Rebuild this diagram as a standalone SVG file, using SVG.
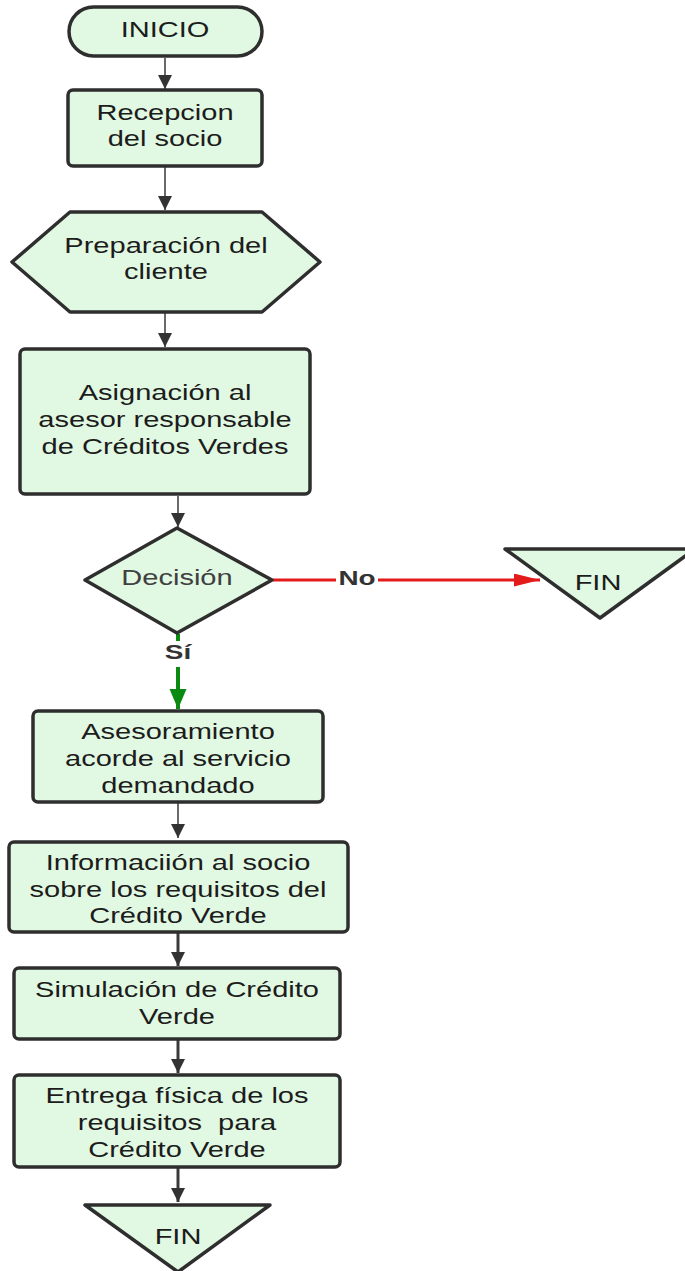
<svg xmlns="http://www.w3.org/2000/svg" width="685" height="1271" viewBox="0 0 685 1271">
<defs>
<style>
.shape{fill:#e1f8e2;stroke:#2e2e2e;stroke-width:3.5;stroke-linejoin:round}
.t{font-family:"Liberation Sans",Arial,sans-serif;font-size:22px;fill:#1c1c1c;text-anchor:middle;white-space:pre}
.lbl{font-family:"Liberation Sans",Arial,sans-serif;font-size:21px;font-weight:bold;fill:#333;text-anchor:middle}
.thin{stroke:#444;stroke-width:1.6;fill:none}
.thick{stroke:#3a3a3a;stroke-width:3;fill:none}
</style>
<marker id="ah" markerUnits="userSpaceOnUse" markerWidth="14" markerHeight="16" refX="14" refY="7" orient="auto"><path d="M0,0 L14,7 L0,14 Z" fill="#333"/></marker>
<marker id="ahR" markerUnits="userSpaceOnUse" markerWidth="26" markerHeight="14" refX="26" refY="6.5" orient="auto"><path d="M0,0 L26,6.5 L0,13 Z" fill="#e31b1b"/></marker>
<marker id="ahG" markerUnits="userSpaceOnUse" markerWidth="20" markerHeight="18" refX="20" refY="8.5" orient="auto"><path d="M0,0 L20,8.5 L0,17 Z" fill="#0b8a12"/></marker>
</defs>
<rect width="685" height="1271" fill="#ffffff"/>
<g id="connectors">
<line class="thin" x1="165" y1="58" x2="165" y2="89" marker-end="url(#ah)"/>
<line class="thin" x1="165" y1="167" x2="165" y2="210" marker-end="url(#ah)"/>
<line class="thin" x1="165" y1="313" x2="165" y2="347" marker-end="url(#ah)"/>
<line class="thin" x1="178" y1="496" x2="178" y2="527" marker-end="url(#ah)"/>
<line x1="273" y1="580" x2="540" y2="580" stroke="#e31b1b" stroke-width="3" marker-end="url(#ahR)"/>
<line x1="178" y1="634" x2="178" y2="709" stroke="#0b8a12" stroke-width="4" marker-end="url(#ahG)"/>
<line class="thin" x1="178" y1="803" x2="178" y2="838" marker-end="url(#ah)"/>
<line class="thick" x1="178" y1="933" x2="178" y2="966" marker-end="url(#ah)"/>
<line class="thick" x1="178" y1="1040" x2="178" y2="1073" marker-end="url(#ah)"/>
<line class="thick" x1="178" y1="1168" x2="178" y2="1202" marker-end="url(#ah)"/>
<rect x="336" y="568" width="42" height="24" fill="#ffffff"/>
<text class="lbl" transform="translate(357,585) scale(1.33,1)">No</text>
<rect x="163" y="641" width="30" height="26" fill="#ffffff"/>
<text class="lbl" transform="translate(178,659) scale(1.33,1)">Sí</text>
</g>
<g id="inicio">
<rect class="shape" x="69" y="7" width="193" height="49" rx="24.5"/>
<text class="t" transform="translate(165,37) scale(1.32,1)">INICIO</text>
</g>
<g id="recepcion">
<rect class="shape" x="68" y="90" width="194" height="76" rx="5"/>
<text class="t" transform="translate(165,120) scale(1.32,1)">Recepcion</text>
<text class="t" transform="translate(165,146) scale(1.32,1)">del socio</text>
</g>
<g id="preparacion">
<path class="shape" d="M12,262 L70,212 L262,212 L320,262 L262,312 L70,312 Z"/>
<text class="t" transform="translate(166,253) scale(1.32,1)">Preparación del</text>
<text class="t" transform="translate(166,279) scale(1.32,1)">cliente</text>
</g>
<g id="asignacion">
<rect class="shape" x="20" y="349" width="290" height="145" rx="5"/>
<text class="t" transform="translate(165,400) scale(1.32,1)">Asignación al</text>
<text class="t" transform="translate(165,427) scale(1.32,1)">asesor responsable</text>
<text class="t" transform="translate(165,454) scale(1.32,1)">de Créditos Verdes</text>
</g>
<g id="decision">
<path class="shape" d="M177,528 L272,580 L177,633 L85,580 Z"/>
<text class="t" style="fill:#404040" transform="translate(177,585) scale(1.32,1)">Decisión</text>
</g>
<g id="fin-no">
<path class="shape" d="M505,549 L695,549 L600,618 Z"/>
<text class="t" transform="translate(598,590) scale(1.32,1)">FIN</text>
</g>
<g id="asesoramiento">
<rect class="shape" x="33" y="711" width="290" height="91" rx="5"/>
<text class="t" transform="translate(178,739) scale(1.32,1)">Asesoramiento</text>
<text class="t" transform="translate(178,766) scale(1.32,1)">acorde al servicio</text>
<text class="t" transform="translate(178,793) scale(1.32,1)">demandado</text>
</g>
<g id="informacion">
<rect class="shape" x="9" y="842" width="339" height="90" rx="5"/>
<text class="t" transform="translate(178,870) scale(1.32,1)">Informaciión al socio</text>
<text class="t" transform="translate(178,897) scale(1.32,1)">sobre los requisitos del</text>
<text class="t" transform="translate(178,923) scale(1.32,1)">Crédito Verde</text>
</g>
<g id="simulacion">
<rect class="shape" x="14" y="968" width="326" height="71" rx="5"/>
<text class="t" transform="translate(177,997) scale(1.32,1)">Simulación de Crédito</text>
<text class="t" transform="translate(177,1024) scale(1.32,1)">Verde</text>
</g>
<g id="entrega">
<rect class="shape" x="14" y="1075" width="326" height="92" rx="5"/>
<text class="t" transform="translate(177,1103) scale(1.32,1)">Entrega física de los</text>
<text class="t" transform="translate(177,1130) scale(1.32,1)">requisitos  para</text>
<text class="t" transform="translate(177,1157) scale(1.32,1)">Crédito Verde</text>
</g>
<g id="fin">
<path class="shape" d="M85,1205 L270,1205 L178,1272 Z"/>
<text class="t" transform="translate(178,1244) scale(1.32,1)">FIN</text>
</g>
</svg>
